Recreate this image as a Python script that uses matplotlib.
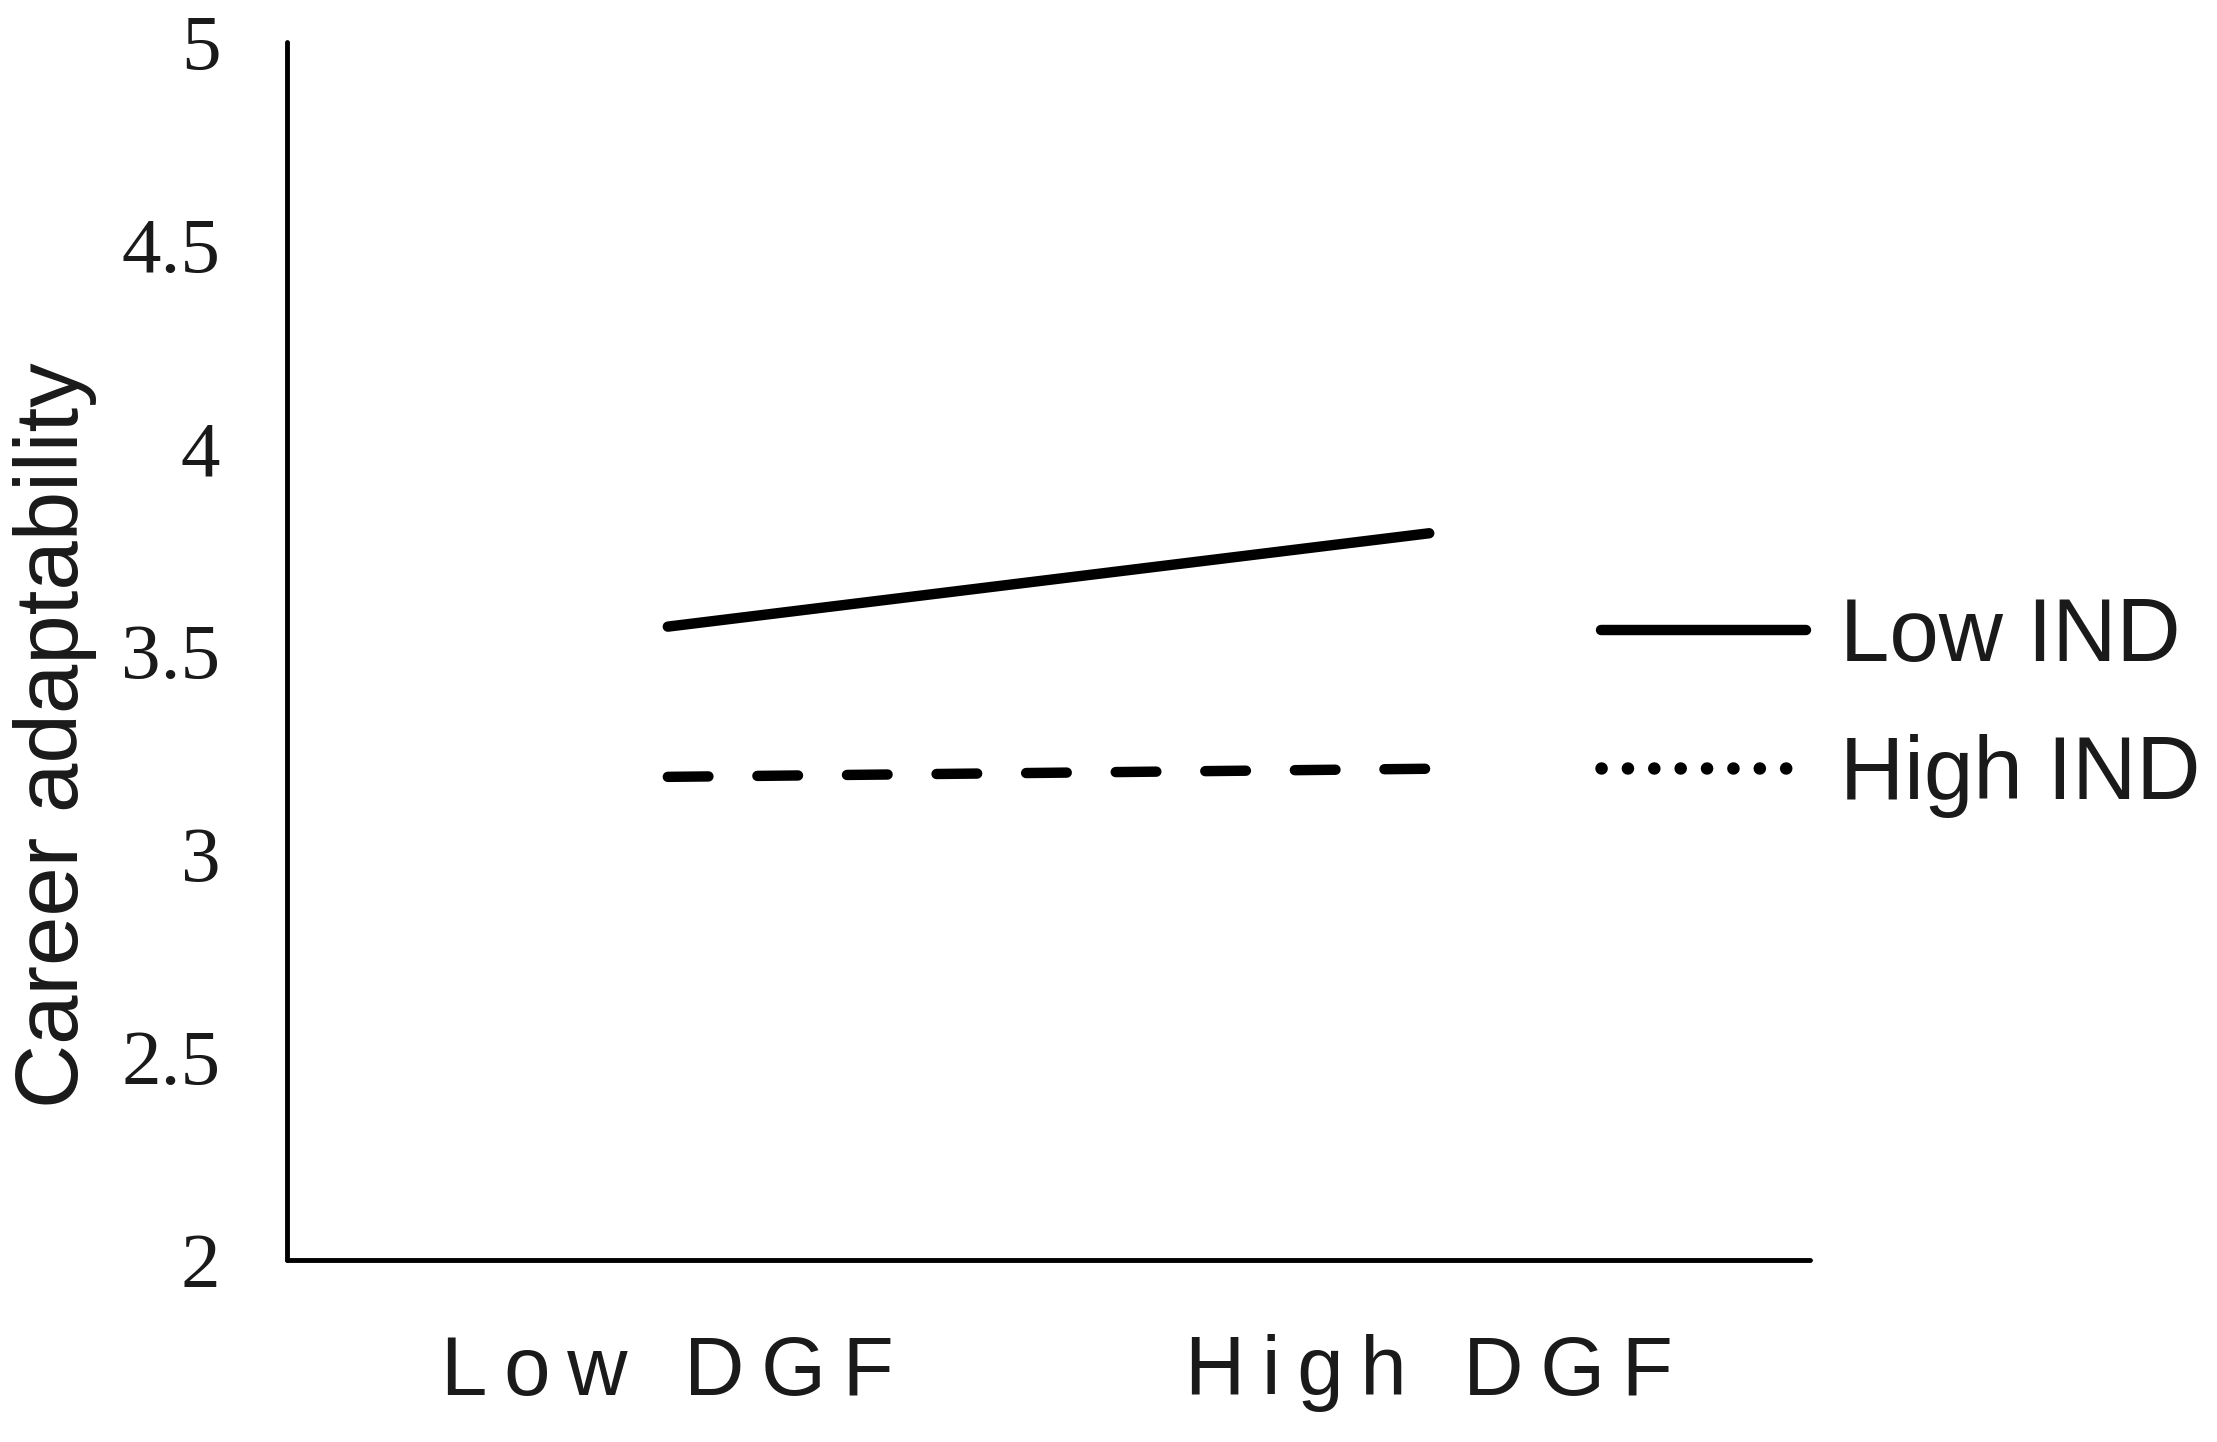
import matplotlib
matplotlib.use("Agg")
import matplotlib.pyplot as plt
from matplotlib.lines import Line2D

# data
groups = ["Low DGF", "High DGF"]
low_ind = [3.56, 3.79]
high_ind = [3.19, 3.21]
yticks = [2, 2.5, 3, 3.5, 4, 4.5, 5]
ytick_labels = ["2", "2.5", "3", "3.5", "4", "4.5", "5"]

fig = plt.figure(figsize=(22.17, 14.42), dpi=100)
ax = fig.add_axes([0.1295, 0.1262, 0.6869, 0.8447])

x = [1, 2]
ax.plot(x, low_ind, color="black", lw=7.5, solid_capstyle="round")
ax.plot(x, high_ind, color="black", lw=7.5, dashes=(3.9, 4.7),
        dash_capstyle="round")

ax.set_xlim(0.5, 2.5)
ax.set_ylim(2, 5)

for s in ["top", "right"]:
    ax.spines[s].set_visible(False)
for s in ["left", "bottom"]:
    ax.spines[s].set_linewidth(3.5)
    ax.spines[s].set_capstyle("round")

ax.set_yticks(yticks)
ax.set_yticklabels(ytick_labels, family="Liberation Serif", fontsize=57,
                   color="#1a1a1a")
ax.set_xticks(x)
thin = "\u2009"
ax.set_xticklabels([thin.join(g) for g in groups],
                   family=["Liberation Sans", "DejaVu Sans"], fontsize=60,
                   color="#1a1a1a")
ax.tick_params(axis="y", length=0, pad=48)
ax.tick_params(axis="x", length=0, pad=53)

ax.set_ylabel("Career adaptability", family="Liberation Sans", fontsize=64,
              color="#1a1a1a")
ax.yaxis.set_label_coords(-0.125, 0.431)

handles = [
    Line2D([], [], color="black", lw=7.5, solid_capstyle="round"),
    Line2D([], [], color="black", lw=9, dashes=(0.01, 2.1),
           dash_capstyle="round"),
]
ax.legend(handles, ["Low IND", "High IND"], loc="center left",
          bbox_to_anchor=(0.863, 0.454), frameon=False,
          prop={"family": "Liberation Sans", "size": 64},
          handlelength=2.3, handletextpad=0.38, labelspacing=0.61,
          borderaxespad=0, borderpad=0, labelcolor="#1a1a1a")

fig.savefig("out.png", dpi=100)
